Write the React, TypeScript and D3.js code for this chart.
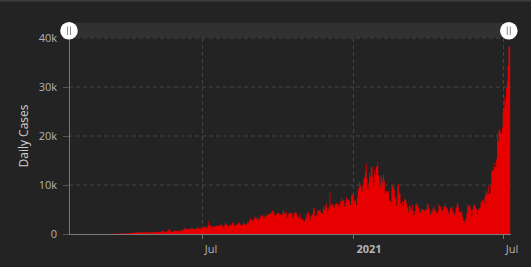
import React from "react";
import * as d3 from "d3";

// Daily new cases, one array per month
const mar2020 = [0,2,0,0,0,2,0,2,13,8,7,0,35,27,21,17,38,55,82,60,81,64,65,107,104,103,153,109,130,129,114];
const apr2020 = [149,113,196,106,181,218,247,218,337,219,330,399,316,282,297,380,407,325,327,185,375,283,357,436,396,275,214,415,260,347];
const may2020 = [433,292,349,395,484,367,338,336,533,387,233,484,689,568,490,529,489,496,486,693,973,634,949,526,479,415,686,687,678,557,700];
const jun2020 = [467,609,684,585,703,993,672,847,1043,1241,979,1111,1014,857,1017,1106,1031,1331,1041,1226,862,954,1051,1113,1178,1385,1198,1082,1082,1293];
const jul2020 = [1385,1624,1301,1447,1607,1209,1268,1853,2657,1611,1671,1681,1282,1591,1522,1574,1462,1752,1693,1639,1655,1882,1906,1761,1868,1492,1525,1748,2381,1904,2040];
const aug2020 = [1560,1519,1679,1922,1815,1882,2473,2277,1893,1687,1693,1942,2098,2307,2345,2081,1821,1673,1902,2266,2197,2037,1877,2006,2447,2306,2719,3003,3308,2858,2743];
const sep2020 = [2775,3075,3622,3269,3128,3444,2880,3046,3307,3861,3737,3806,3636,3141,3507,3963,3635,3891,4168,3989,4176,4071,4465,4634,4823,4494,3874,3509,4002,4284];
const oct2020 = [4174,4317,4007,3992,3622,4056,4538,4850,4094,4294,4497,3267,3906,4127,4411,4301,4105,4432,3373,3602,4267,4432,4369,4070,3732,3222,3520,4029,3143,2897,3143];
const nov2020 = [2696,2618,2973,4065,3356,4262,4486,3880,2853,3779,3770,4173,5444,5272,3535,3807,3807,4798,4798,4792,4998,4360,4442,4192,5534,4917,5828,5418,6267,4617];
const dec2020 = [5092,5533,8369,5803,6027,6089,5754,5292,6058,6033,6310,5938,6189,5489,6120,6725,7354,6689,6982,6848,5500,6347,7514,7199,6981,6982,6528,5854,7903,8002,8074];
const jan2021 = [7203,6753,6877,5854,7445,8854,9321,10617,10046,9640,8692,10047,11278,11557,12818,14224,11287,9086,10365,12568,11703,13632,13788,11788,9994,13094,11948,13695,13802,14518,12001];
const feb2021 = [10994,9659,11984,11434,10485,12156,10827,8242,8700,8776,8435,8844,6765,6765,6462,10029,9687,9775,9039,7786,7300,5720,9775,10200,8493,8232,6208,5560];
const mar2021 = [6680,5712,6808,7264,6971,6241,5460,4396,5633,5867,4900,5414,5931,4714,3845,4618,6000,6000,6279,5601,5175,4389,4368,5227,5001,5000,4952,4607,5008,5008,6036];
const apr2021 = [6142,5354,4969,3891,4549,4549,5325,5633,4889,5041,4461,4127,4749,6177,5656,5614,4997,4631,4952,5720,5549,6243,5436,5265,4900,4129,4656,5241,5444,5444];
const may2021 = [4788,4512,3880,4369,5285,6130,6327,5444,4500,4401,4800,4600,3448,2633,2385,3080,3158,4252,6000,5627,6000,5600,5000,3600,5000,6000,6000,5800,5200,5100,4000];
const jun2021 = [4824,5246,5353,6486,6594,6993,6993,6294,7725,8892,8083,8465,9868,8189,8161,9944,12624,12990,12906,13737,14536,13668,15308,20574,18872,21095,21342,20694,20467,21807];
const jul2021 = [24836,25830,27913,27233,29745,31189,34379,38391,38124];

const months: [number, number, number[]][] = [
  [2020, 2, mar2020], [2020, 3, apr2020], [2020, 4, may2020], [2020, 5, jun2020],
  [2020, 6, jul2020], [2020, 7, aug2020], [2020, 8, sep2020], [2020, 9, oct2020],
  [2020, 10, nov2020], [2020, 11, dec2020], [2021, 0, jan2021], [2021, 1, feb2021],
  [2021, 2, mar2021], [2021, 3, apr2021], [2021, 4, may2021], [2021, 5, jun2021],
  [2021, 6, jul2021],
];

const yTicks = [0, 10000, 20000, 30000, 40000];
const yTickLabels = ["0", "10k", "20k", "30k", "40k"];
const xTickDates = [Date.UTC(2020, 6, 1), Date.UTC(2021, 0, 1), Date.UTC(2021, 6, 1)];
const xTickLabels = ["Jul", "2021", "Jul"];
const xTickBold = [false, true, false];

const DAY = 86400000;
const W = 531, H = 267;
const L = 69, R = 511, T = 38, B = 234;

export default function App() {
  const points: { t: number; v: number }[] = [];
  months.forEach(([y, m, vals]) => {
    const s = Date.UTC(y, m, 1);
    vals.forEach((v, i) => points.push({ t: s + i * DAY, v }));
  });
  const last = points[points.length - 1];
  const stepPts = [...points, { t: last.t + DAY, v: last.v }];

  const x = d3.scaleUtc().domain([Date.UTC(2020, 0, 22), Date.UTC(2021, 6, 11)]).range([L, R]);
  const y = d3.scaleLinear().domain([0, 40000]).range([B, T]);

  const area = d3.area<{ t: number; v: number }>()
    .x((d) => x(d.t))
    .y0(y(0))
    .y1((d) => y(d.v))
    .curve(d3.curveStepAfter);

  const font = "'Open Sans', 'DejaVu Sans', sans-serif";
  const handles = [69, 508.8];

  return (
    <svg width={W} height={H} style={{ position: "fixed", left: 0, top: 0, display: "block" }} fontFamily={font}>
      <rect x={0} y={0} width={W} height={H} fill="#232323" />
      <rect x={0} y={0} width={W} height={1.5} fill="#3d3d3d" />
      {/* slider band */}
      <rect x={handles[0]} y={22.7} width={handles[1] - handles[0]} height={14.8} fill="#313131" />
      {/* horizontal grid */}
      {yTicks.slice(1).map((t) => (
        <line key={"g" + t} x1={L} x2={R} y1={y(t)} y2={y(t)} stroke="#444" strokeWidth={1} strokeDasharray="4,3" />
      ))}
      {/* vertical grid */}
      {xTickDates.map((t) => (
        <line key={"v" + t} x1={Math.round(x(t)) + 0.5} x2={Math.round(x(t)) + 0.5} y1={T} y2={B} stroke="#444" strokeWidth={1} strokeDasharray="4,3" />
      ))}
      {/* data */}
      <path d={area(stepPts) || ""} fill="#e60000" />
      {/* axes */}
      <line x1={L} x2={R} y1={B + 0.5} y2={B + 0.5} stroke="rgba(255,255,255,0.4)" strokeWidth={1} />
      <line x1={L + 0.5} x2={L + 0.5} y1={30} y2={B} stroke="#777" strokeWidth={1} />
      {yTicks.map((t, i) => (
        <g key={"y" + t}>
          <line x1={63} x2={L} y1={Math.round(y(t)) + 0.5} y2={Math.round(y(t)) + 0.5} stroke="#555" />
          <text x={57} y={y(t)} dy="0.35em" textAnchor="end" fontSize={11} fill="#b4b4b4">{yTickLabels[i]}</text>
        </g>
      ))}
      {xTickDates.map((t, i) => (
        <g key={"x" + t}>
          <line x1={Math.round(x(t)) + 0.5} x2={Math.round(x(t)) + 0.5} y1={B} y2={B + 5} stroke="#777" />
          <text x={x(t) + 3} y={252.7} textAnchor="start" fontSize={11} fontWeight={xTickBold[i] ? 700 : 400} fill="#b4b4b4">{xTickLabels[i]}</text>
        </g>
      ))}
      <text transform={`translate(27.5,${(T + B) / 2}) rotate(-90)`} textAnchor="middle" fontSize={12} fill="#cfcfcf">Daily Cases</text>
      {/* slider handles */}
      {handles.map((hx) => (
        <g key={"h" + hx}>
          <circle cx={hx} cy={30.8} r={8.8} fill="#ffffff" />
          <line x1={hx - 1.5} x2={hx - 1.5} y1={26.5} y2={35} stroke="#8a8a8a" strokeWidth={1} />
          <line x1={hx + 1.5} x2={hx + 1.5} y1={26.5} y2={35} stroke="#8a8a8a" strokeWidth={1} />
        </g>
      ))}
    </svg>
  );
}
